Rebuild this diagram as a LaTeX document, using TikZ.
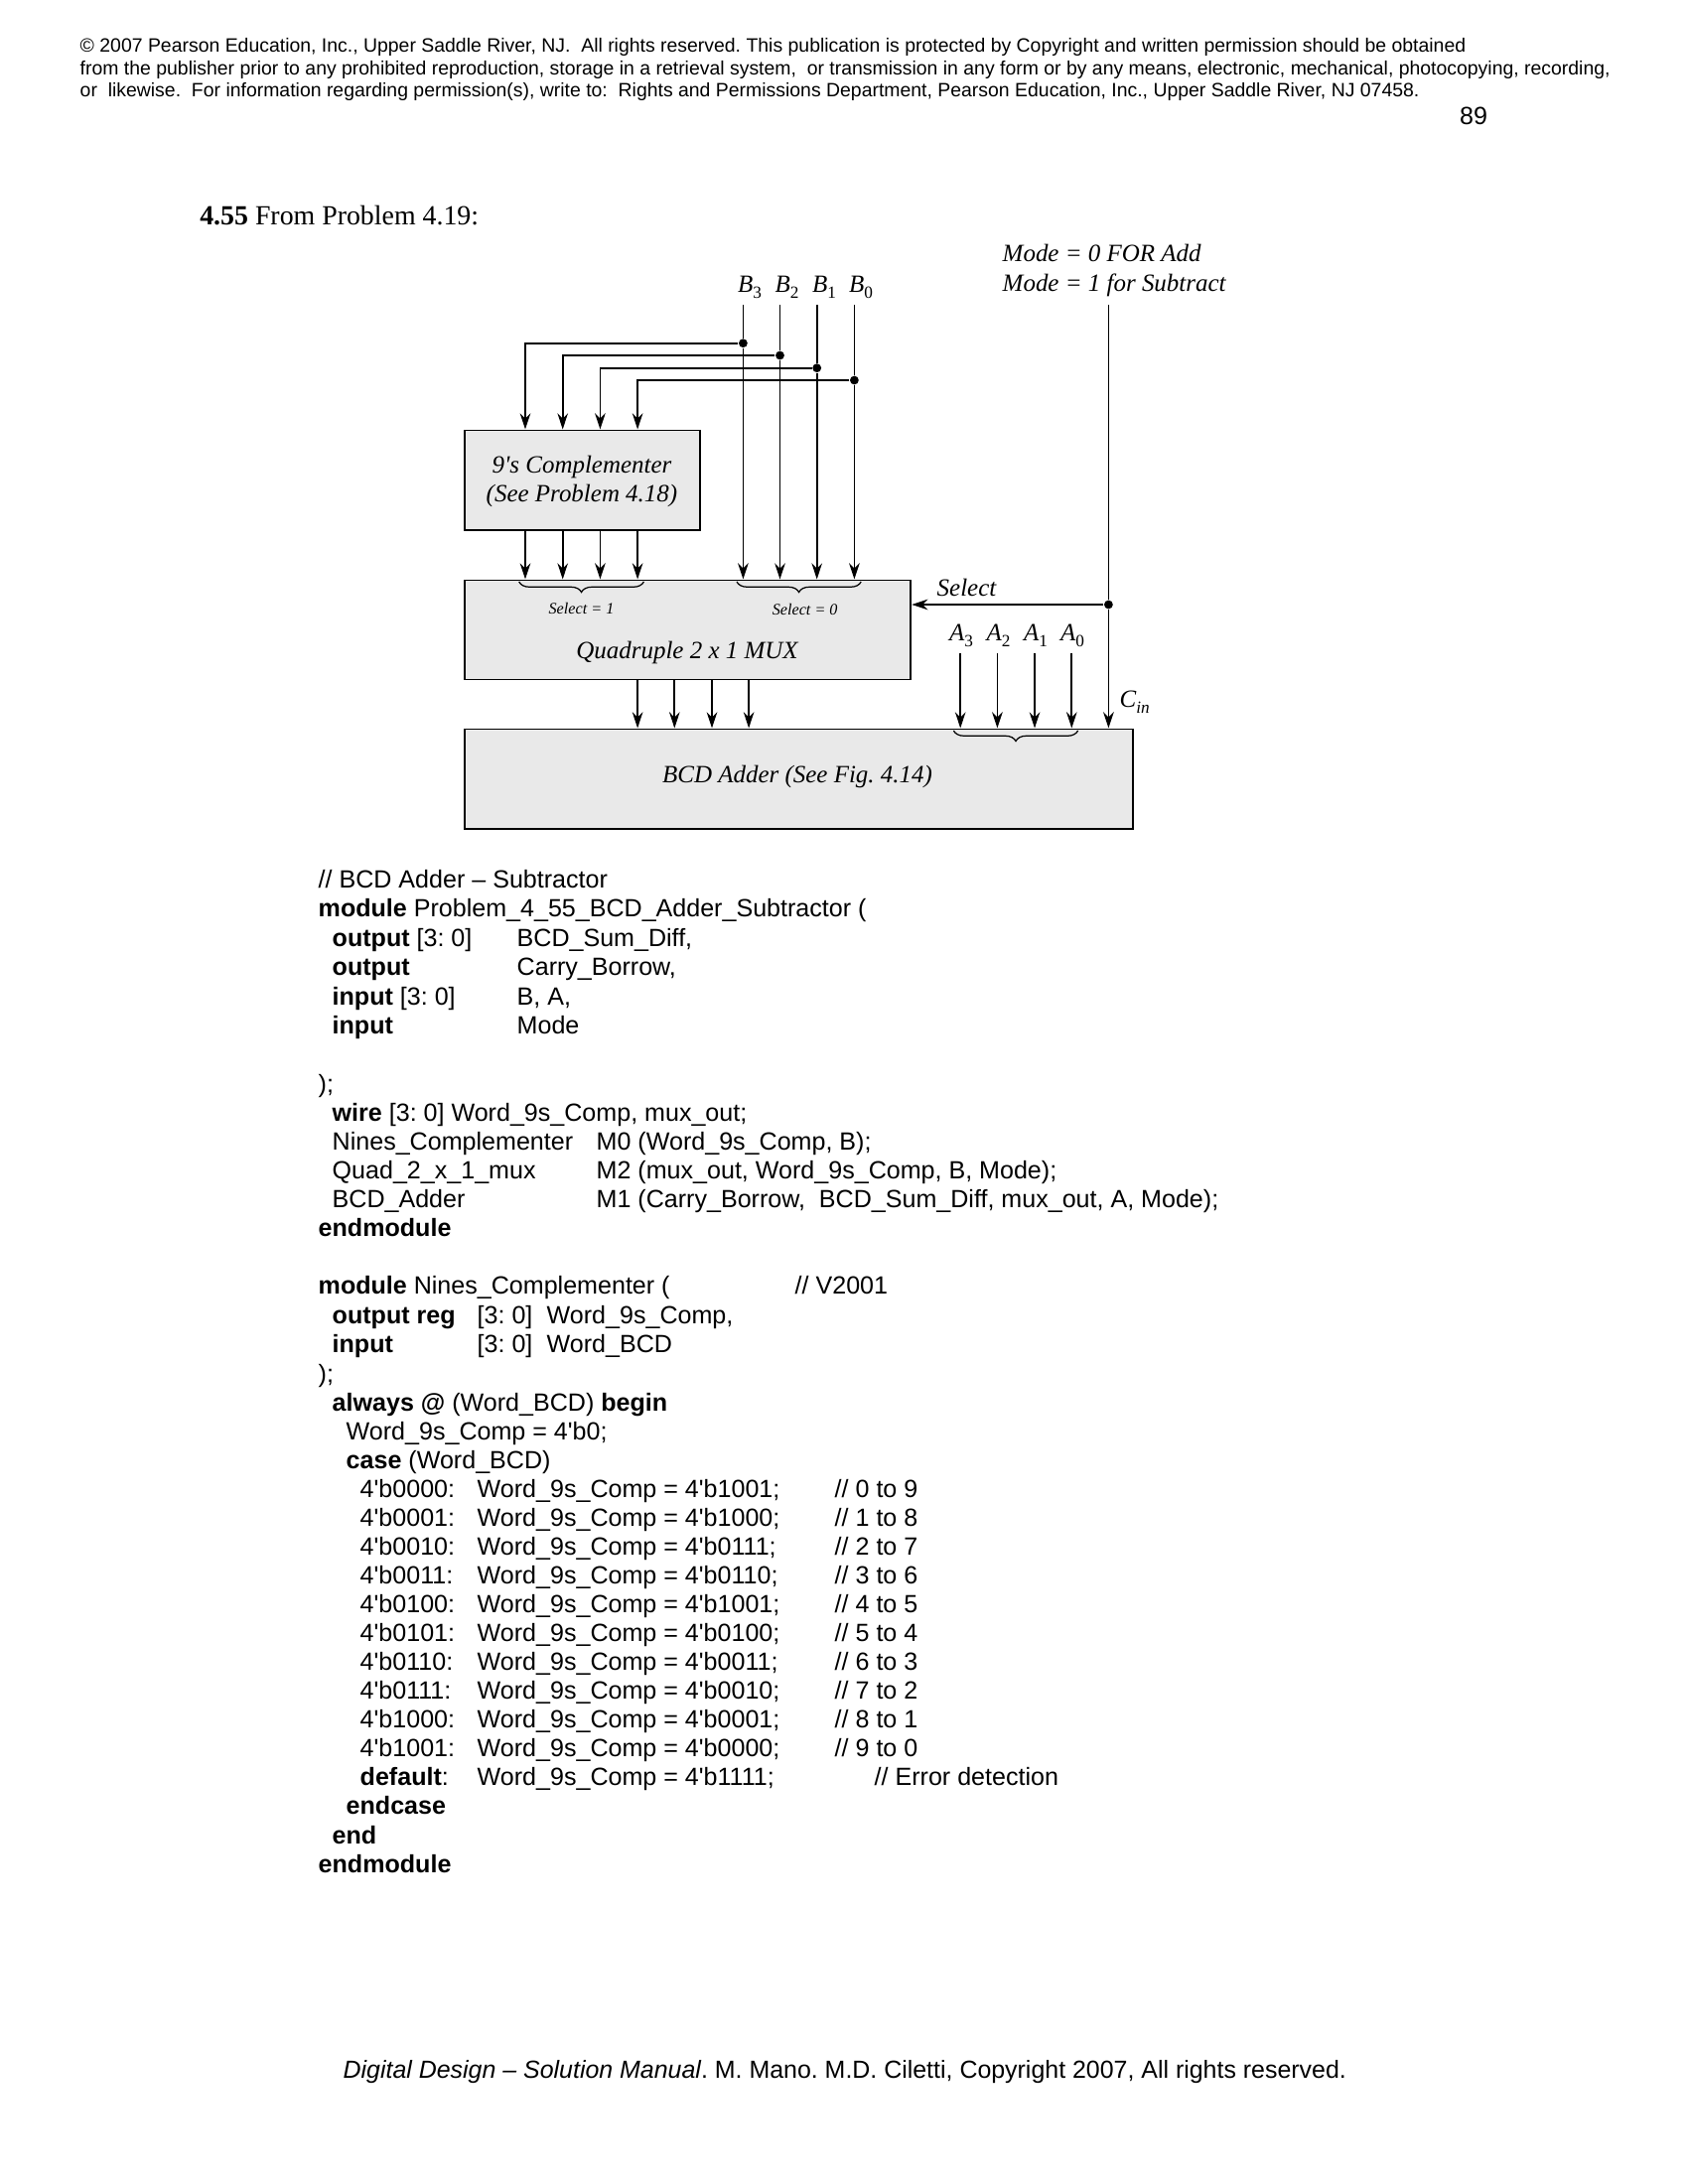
\documentclass[tikz,border=0pt]{standalone}
\usepackage{fontspec}
\setmainfont{Liberation Sans}[Ligatures=TeXOff]
\newfontfamily\tms{Liberation Serif}[Ligatures=TeXOff]
\usetikzlibrary{arrows.meta,decorations.pathreplacing}
\definecolor{boxgrey}{HTML}{E9E9E9}
\newcommand{\cl}[4]{\node[codetxt] (#1) at (#2,#3) {#4};}
\newcommand{\hd}[4]{\node[headtxt] (#1) at (#2,#3) {#4};}
\newcommand{\subd}[2]{{\tms\itshape #1}\raisebox{-0.55ex}{\fontsize{4.9pt}{5pt}\selectfont\tms\upshape #2}}
\newcommand{\subi}[2]{{\tms\itshape #1}\raisebox{-0.55ex}{\fontsize{4.9pt}{5pt}\selectfont\tms\itshape #2}}
\tikzset{
 codetxt/.style={anchor=west,inner sep=0,font=\fontsize{7.13pt}{8pt}\selectfont,text height=.72em,text depth=.2em},
 headtxt/.style={anchor=west,inner sep=0,font=\fontsize{5.525pt}{6pt}\selectfont,text height=.72em,text depth=.2em},
 lab/.style={inner sep=0,font=\tms\itshape\fontsize{7.1pt}{8pt}\selectfont,text height=.72em,text depth=.2em},
 smalllab/.style={inner sep=0,font=\tms\itshape\fontsize{4.6pt}{5pt}\selectfont},
 blockbox/.style={draw=black,fill=boxgrey,line width=0.55pt,anchor=north west,inner sep=0},
 wire/.style={draw=black,line width=0.5pt},
 awire/.style={wire,-{Stealth[length=4.6pt,width=3pt]}},
 junct/.style={circle,fill=black,inner sep=0,minimum size=2.5pt},
 brc/.style={draw=black,line width=0.35pt,decorate,decoration={brace,amplitude=3pt}}
}
\begin{document}
\frenchspacing
\begin{tikzpicture}[x=0.01cm,y=-0.01cm]
\useasboundingbox[fill=white] (0,0) rectangle (1700,2200);
% header
\hd{h1}{80}{43.5}{© 2007 Pearson Education, Inc., Upper Saddle River, NJ.\ \ All rights reserved. This publication is protected by Copyright and written permission should be obtained}
\hd{h2}{80}{66}{from the publisher prior to any prohibited reproduction, storage in a retrieval system,\ \ or transmission in any form or by any means, electronic, mechanical, photocopying, recording,}
\hd{h3}{80}{88.5}{or\ \ likewise.\ \ For information regarding permission(s), write to:\ \ Rights and Permissions Department, Pearson Education, Inc., Upper Saddle River, NJ 07458.}
\node[codetxt,anchor=center] (pg) at (1484,116) {89};
\node[codetxt,font=\tms\fontsize{7.92pt}{9pt}\selectfont] (title) at (200.6,217) {\textbf{4.55} From Problem 4.19:};
% boxes
\node[blockbox,minimum width=2.365cm,minimum height=1.005cm] (comp) at (467,432.5) {};
\node[blockbox,minimum width=4.49cm,minimum height=1cm] (mux) at (467,583.5) {};
\node[blockbox,minimum width=6.73cm,minimum height=1cm] (add) at (467,733.5) {};
\node[lab] (c1) at (586,467) {9's Complementer};
\node[lab] (c2) at (586,496) {(See Problem 4.18)};
\node[lab] (muxl) at (692,654) {Quadruple 2 x 1 MUX};
\node[lab] (addl) at (803,779) {BCD Adder (See Fig. 4.14)};
\node[smalllab] (s1) at (585.5,612.5) {Select = 1};
\node[smalllab] (s0) at (810.7,614) {Select = 0};
\node[lab,anchor=west] (sel) at (943,591) {Select};
\node[lab,anchor=west] (m0) at (1009,254) {Mode = 0 FOR Add};
\node[lab,anchor=west] (m1) at (1009,284) {Mode = 1 for Subtract};
\node[lab] (lb3) at (755,285) {\subd{B}{3}};
\node[lab] (lb2) at (792.5,285) {\subd{B}{2}};
\node[lab] (lb1) at (830,285) {\subd{B}{1}};
\node[lab] (lb0) at (867,285) {\subd{B}{0}};
\node[lab] (la3) at (968,636) {\subd{A}{3}};
\node[lab] (la2) at (1005.5,636) {\subd{A}{2}};
\node[lab] (la1) at (1043,636) {\subd{A}{1}};
\node[lab] (la0) at (1080,636) {\subd{A}{0}};
\node[lab,anchor=west] (lcin) at (1127,703) {\subi{C}{in}};
% coordinates
\foreach \n/\x in {3/748.4,2/785.5,1/822.7,0/860.4}{\coordinate (bt\n) at (\x,307);}
\node[junct] (j3) at (748.4,345.7) {};
\node[junct] (j2) at (785.5,358) {};
\node[junct] (j1) at (822.7,370.7) {};
\node[junct] (j0) at (860.4,383) {};
\foreach \n/\x in {3/529,2/566.7,1/604.4,0/642.1}{\coordinate (cx\n) at (\x,400);}
\foreach \n/\x in {3/642.1,2/679.3,1/717,0/754.1}{\coordinate (mo\n) at (\x,700);}
\foreach \n/\x in {3/967.2,2/1004.4,1/1042,0/1079.3}{\coordinate (at\n) at (\x,658);}
\coordinate (modet) at (1116.4,307);
\node[junct] (jsel) at (1116.4,609) {};
% connectors
\foreach \n in {3,2,1,0}{
 \draw[wire] (bt\n) -- (j\n);
 \draw[awire] (j\n) -- (j\n |- mux.north);
 \draw[wire] (j\n) -| (cx\n);
 \draw[awire] (cx\n) -- (cx\n |- comp.north);
 \draw[awire] (cx\n |- comp.south) -- (cx\n |- mux.north);
 \draw[awire] (mo\n |- mux.south) -- (mo\n |- add.north);
 \draw[awire] (at\n) -- (at\n |- add.north);
}
\draw[wire] (modet) -- (jsel);
\draw[awire] (jsel) -- (jsel |- add.north);
\draw[awire] (jsel) -- (jsel -| mux.east);
% braces
\coordinate (br1r) at (648.4,586); \coordinate (br1l) at (522.7,586);
\coordinate (br0r) at (867.2,586); \coordinate (br0l) at (742,586);
\coordinate (brar) at (1085.6,736); \coordinate (bral) at (960.4,736);
\draw[brc] (br1r) -- (br1l);
\draw[brc] (br0r) -- (br0l);
\draw[brc] (brar) -- (bral);
% code
\cl{a1}{320}{885}{// BCD Adder – Subtractor}
\cl{a2}{320}{914}{\textbf{module} Problem\_4\_55\_BCD\_Adder\_Subtractor (}
\cl{a3}{334}{944}{\textbf{output} [3: 0]}
\cl{a3b}{520}{944}{BCD\_Sum\_Diff,}
\cl{a4}{334}{973}{\textbf{output}}
\cl{a4b}{520}{973}{Carry\_Borrow,}
\cl{a5}{334}{1003}{\textbf{input} [3: 0]}
\cl{a5b}{520}{1003}{B, A,}
\cl{a6}{334}{1032}{\textbf{input}}
\cl{a6b}{520}{1032}{Mode}
\cl{a7}{320}{1091}{);}
\cl{a8}{334}{1120}{\textbf{wire} [3: 0] Word\_9s\_Comp, mux\_out;}
\cl{a9}{334}{1149}{Nines\_Complementer}
\cl{a9b}{600}{1149}{M0 (Word\_9s\_Comp, B);}
\cl{a10}{334}{1178}{Quad\_2\_x\_1\_mux}
\cl{a10b}{600}{1178}{M2 (mux\_out, Word\_9s\_Comp, B, Mode);}
\cl{a11}{334}{1207}{BCD\_Adder}
\cl{a11b}{600}{1207}{M1 (Carry\_Borrow,\ \ BCD\_Sum\_Diff, mux\_out, A, Mode);}
\cl{a12}{320}{1236}{\textbf{endmodule}}
\cl{b1}{320}{1294}{\textbf{module} Nines\_Complementer (}
\cl{b1b}{800}{1294}{// V2001}
\cl{b2}{334}{1324}{\textbf{output reg}}
\cl{b2b}{480}{1324}{[3: 0]}
\cl{b2c}{550}{1324}{Word\_9s\_Comp,}
\cl{b3}{334}{1353}{\textbf{input}}
\cl{b3b}{480}{1353}{[3: 0]}
\cl{b3c}{550}{1353}{Word\_BCD}
\cl{b4}{320}{1383}{);}
\cl{b5}{334}{1412}{\textbf{always @} (Word\_BCD) \textbf{begin}}
\cl{b6}{348}{1441}{Word\_9s\_Comp = 4'b0;}
\cl{b7}{348}{1470}{\textbf{case} (Word\_BCD)}
\foreach \nm/\y/\k/\v/\cmt in {
 r0/1499/0000/1001/0 to 9, r1/1528/0001/1000/1 to 8, r2/1557/0010/0111/2 to 7,
 r3/1586/0011/0110/3 to 6, r4/1615/0100/1001/4 to 5, r5/1644/0101/0100/5 to 4,
 r6/1673/0110/0011/6 to 3, r7/1702/0111/0010/7 to 2, r8/1731/1000/0001/8 to 1,
 r9/1760/1001/0000/9 to 0}{
 \node[codetxt] (\nm a) at (362,\y) {4'b\k:};
 \node[codetxt] (\nm b) at (480,\y) {Word\_9s\_Comp = 4'b\v;};
 \node[codetxt] (\nm c) at (840,\y) {// \cmt};
}
\cl{d1}{362}{1789}{\textbf{default}:}
\cl{d1b}{480}{1789}{Word\_9s\_Comp = 4'b1111;}
\cl{d1c}{880}{1789}{// Error detection}
\cl{e1}{348}{1818}{\textbf{endcase}}
\cl{e2}{334}{1848}{\textbf{end}}
\cl{e3}{320}{1877}{\textbf{endmodule}}
\node[codetxt,anchor=west,font=\fontsize{7.09pt}{8pt}\selectfont] (foot) at (345,2084) {\textit{Digital Design – Solution Manual}. M. Mano. M.D. Ciletti, Copyright 2007, All rights reserved.};
\end{tikzpicture}
\end{document}
